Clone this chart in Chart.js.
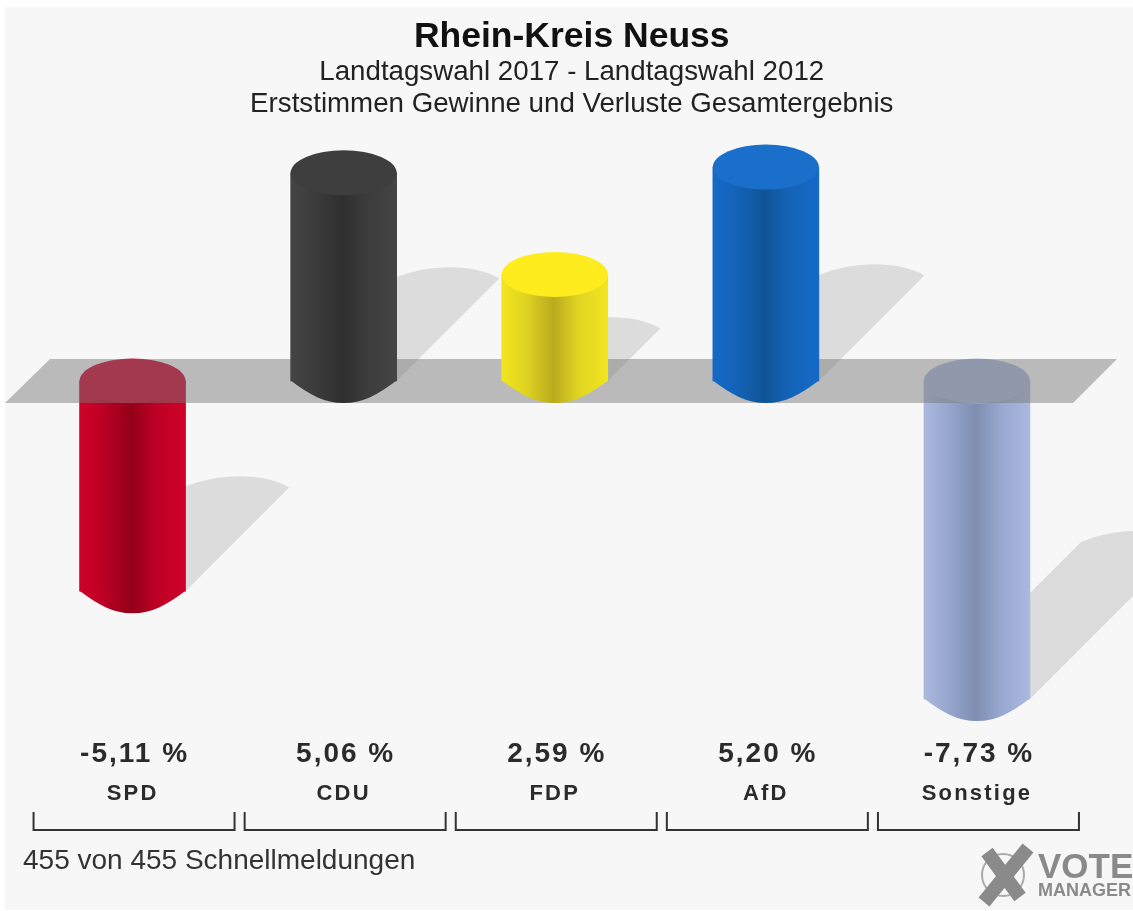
<!DOCTYPE html>
<html lang="de">
<head>
<meta charset="utf-8">
<title>Rhein-Kreis Neuss</title>
<style>
html,body{margin:0;padding:0;background:#fff;}
canvas{display:block;filter:blur(0.5px);}
</style>
<script src="https://cdn.jsdelivr.net/npm/chart.js@4"></script>
</head>
<body>
<canvas id="c" width="1133" height="911"></canvas>
<script>
const categories = ['SPD', 'CDU', 'FDP', 'AfD', 'Sonstige'];
const values = [-5.11, 5.06, 2.59, 5.20, -7.73];
const titleText = 'Rhein-Kreis Neuss';
const subtitleLines = ['Landtagswahl 2017 - Landtagswahl 2012', 'Erststimmen Gewinne und Verluste Gesamtergebnis'];
const footerText = '455 von 455 Schnellmeldungen';
const bodyLight = ['#cf0029', '#444444', '#f2e51f', '#1569c7', '#abb9e0'];
const bodyMid   = ['#bd0025', '#3c3c3c', '#e0d422', '#1463b8', '#97a7cf'];
const bodyDark  = ['#920018', '#2f2f2f', '#b9ab1e', '#105497', '#7f8db0'];
const capColor  = ['#c9002a', '#3e3e3e', '#ffec1e', '#1a6fcb', '#a9b6da'];

const FONT = '"Liberation Sans", Arial, Helvetica, sans-serif';
const BAR_W = 106, RY = 22, SHADOW = 0.493;

function bodyGradient(chart, i) {
  if (!Number.isInteger(i)) return 'transparent';
  const cx = chart.scales.x.getPixelForValue(i);
  if (!Number.isFinite(cx)) return bodyLight[i];
  const g = chart.ctx.createLinearGradient(cx - BAR_W / 2, 0, cx + BAR_W / 2, 0);
  g.addColorStop(0, bodyLight[i]);
  g.addColorStop(0.22, bodyMid[i]);
  g.addColorStop(0.49, bodyDark[i]);
  g.addColorStop(0.72, bodyMid[i]);
  g.addColorStop(1, bodyLight[i]);
  return g;
}
function bottomCurve(ctx, cx, y, fill) {
  const h = BAR_W / 2;
  ctx.beginPath();
  ctx.moveTo(cx - h, y - 0.5);
  ctx.bezierCurveTo(cx - h + 20, y + 14, cx - 20, y + RY, cx, y + RY);
  ctx.bezierCurveTo(cx + 20, y + RY, cx + h - 20, y + 14, cx + h, y - 0.5);
  ctx.closePath();
  ctx.fillStyle = fill;
  ctx.fill();
}
function topCap(ctx, cx, y, fill) {
  ctx.beginPath();
  ctx.ellipse(cx, y, BAR_W / 2, RY + 0.5, 0, 0, Math.PI * 2);
  ctx.fillStyle = fill;
  ctx.fill();
}
function finishBars(chart, positive) {
  const ctx = chart.ctx, x = chart.scales.x, y = chart.scales.y, zero = y.getPixelForValue(0);
  values.forEach((v, i) => {
    if ((v > 0) !== positive) return;
    const cx = x.getPixelForValue(i), end = y.getPixelForValue(v);
    if (positive) {
      bottomCurve(ctx, cx, zero, bodyGradient(chart, i));
      topCap(ctx, cx, end, capColor[i]);
    } else {
      bottomCurve(ctx, cx, end, bodyGradient(chart, i));
      topCap(ctx, cx, zero, capColor[i]);
    }
  });
}

const scene = {
  id: 'scene',
  afterLayout(chart) {
    // the headline block is centred a little right of the plot
    chart.boxes.forEach(b => {
      if (b.options && b.options.text) { b.left += 17; b.right += 17; }
    });
    const xs = chart.scales.x;
    if (!xs._spaced) {
      const orig = xs.drawLabels;
      xs.drawLabels = function (area) {
        chart.ctx.letterSpacing = '2.2px';
        orig.call(this, area);
        chart.ctx.letterSpacing = '0px';
      };
      xs._spaced = true;
    }
  },
  beforeDraw(chart) {
    const ctx = chart.ctx;
    ctx.save();
    ctx.fillStyle = '#fff';
    ctx.fillRect(0, 0, chart.width, chart.height);
    ctx.fillStyle = '#f7f7f7';
    ctx.fillRect(5, 7, chart.width - 5, chart.height - 8);
    ctx.restore();
  },
  beforeDatasetsDraw(chart) {
    // cast shadows
    const ctx = chart.ctx, x = chart.scales.x, y = chart.scales.y, zero = y.getPixelForValue(0);
    ctx.save();
    ctx.fillStyle = '#dcdcdc';
    values.forEach((v, i) => {
      const cx = x.getPixelForValue(i), end = y.getPixelForValue(v);
      const base = v > 0 ? zero : end;
      const d = Math.abs(end - zero) * SHADOW;
      const L = cx - BAR_W / 2, R = cx + BAR_W / 2, ty = base - d;
      ctx.beginPath();
      ctx.moveTo(L, base);
      ctx.lineTo(L + d, ty);
      ctx.bezierCurveTo(L + d + 35, ty - 15, R + d - 25, ty - 15, R + d, ty);
      ctx.lineTo(R, base);
      ctx.closePath();
      ctx.fill();
    });
    ctx.restore();
  },
  afterDatasetDraw(chart, args) {
    const ctx = chart.ctx, y = chart.scales.y, zero = y.getPixelForValue(0);
    ctx.save();
    if (args.index === 1) {           // negative bars are drawn first and sit under the plane
      finishBars(chart, false);
      ctx.beginPath();
      ctx.moveTo(50, zero - RY);
      ctx.lineTo(1117, zero - RY);
      ctx.lineTo(1073, zero + RY);
      ctx.lineTo(5, zero + RY);
      ctx.closePath();
      ctx.fillStyle = 'rgba(119,119,119,0.48)';
      ctx.fill();
    } else {
      finishBars(chart, true);
    }
    ctx.restore();
  },
  afterDraw(chart) {
    const ctx = chart.ctx, x = chart.scales.x;
    ctx.save();
    // value labels
    ctx.textAlign = 'center';
    ctx.textBaseline = 'middle';
    ctx.fillStyle = '#2b2b2b';
    ctx.font = 'bold 28px ' + FONT;
    ctx.letterSpacing = '2px';
    values.forEach((v, i) => {
      ctx.fillText(v.toFixed(2).replace('.', ',') + ' %', x.getPixelForValue(i) + 2, 754);
    });
    ctx.letterSpacing = '0px';
    // brackets
    ctx.strokeStyle = '#333';
    ctx.lineWidth = 2;
    values.forEach((v, i) => {
      const cx = x.getPixelForValue(i);
      ctx.beginPath();
      ctx.moveTo(cx - 99, 812);
      ctx.lineTo(cx - 99, 830);
      ctx.lineTo(cx + 102, 830);
      ctx.lineTo(cx + 102, 812);
      ctx.stroke();
    });
    // footer
    ctx.textAlign = 'left';
    ctx.fillStyle = '#333';
    ctx.font = '28px ' + FONT;
    ctx.fillText(footerText, 23, 861);
    // logo
    ctx.strokeStyle = '#aaa';
    ctx.lineWidth = 2;
    ctx.beginPath();
    ctx.arc(1003, 875, 21, 0, Math.PI * 2);
    ctx.stroke();
    ctx.strokeStyle = '#8a8a8a';
    ctx.lineWidth = 14;
    ctx.beginPath();
    ctx.moveTo(987, 852); ctx.lineTo(1020, 897);
    ctx.moveTo(1028, 848); ctx.lineTo(984, 902);
    ctx.stroke();
    ctx.fillStyle = '#8a8a8a';
    ctx.font = 'bold 35px ' + FONT;
    ctx.textBaseline = 'alphabetic';
    ctx.fillText('VOTE', 1038, 878);
    ctx.font = 'bold 18px ' + FONT;
    ctx.fillText('MANAGER', 1038, 896);
    ctx.restore();
  }
};

new Chart(document.getElementById('c'), {
  type: 'bar',
  data: {
    labels: categories,
    datasets: [
      { label: 'Gewinne', data: values.map(v => v > 0 ? v : null), grouped: false, barThickness: BAR_W, borderWidth: 0,
        backgroundColor: c => bodyGradient(c.chart, c.dataIndex) },
      { label: 'Verluste', data: values.map(v => v < 0 ? v : null), grouped: false, barThickness: BAR_W, borderWidth: 0,
        backgroundColor: c => bodyGradient(c.chart, c.dataIndex) }
    ]
  },
  options: {
    responsive: false,
    animation: false,
    events: [],
    layout: { padding: { left: 27, right: 50.5, top: 0, bottom: 63 } },
    plugins: {
      legend: { display: false },
      tooltip: { enabled: false },
      title: { display: true, text: titleText, color: '#111', font: { family: FONT, size: 35.5, weight: 'bold', lineHeight: 1 }, padding: { top: 19.5, bottom: 1 } },
      subtitle: { display: true, text: subtitleLines, color: '#222', font: { family: FONT, size: 27.7, weight: 'normal', lineHeight: 1.1552 }, padding: { top: 0, bottom: 10 } }
    },
    scales: {
      x: { display: true, grid: { display: false, drawTicks: false }, border: { display: false },
           ticks: { padding: 41, color: '#2b2b2b', maxRotation: 0, font: { family: FONT, size: 22, weight: 'bold', lineHeight: 1.2 } } },
      y: { display: false, min: -8.716, max: 6.102 }
    }
  },
  plugins: [scene]
});
</script>
</body>
</html>
